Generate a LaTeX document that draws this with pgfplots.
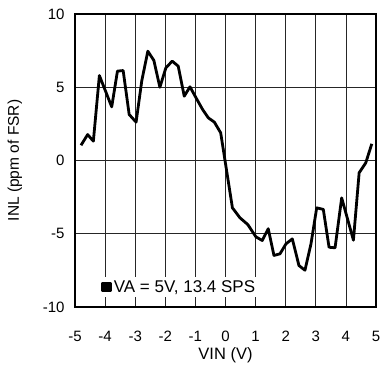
\documentclass[border=0pt]{standalone}
\usepackage{pgfplots}
\pgfplotsset{compat=1.18}
\usepackage{fontspec}
\setmainfont{Liberation Sans}
\begin{document}
\begin{tikzpicture}
\begin{axis}[
  name=ax,
  scale only axis,
  width=301bp, height=293bp,
  xmin=-5, xmax=5, ymin=-10, ymax=10,
  xtick={-5,-4,...,5},
  ytick={-10,-5,0,5,10},
  grid=major,
  major grid style={black!85, line width=0.7bp},
  major tick length=0pt,
  axis line style={black, line width=1.6bp},
  /pgf/number format/assume math mode=true,
  ticklabel style={font=\fontsize{15bp}{17bp}\selectfont},
  xticklabel style={yshift=-21bp},
  yticklabel style={xshift=-7bp},
  xlabel={VIN (V)},
  ylabel={INL (ppm of FSR)},
  xlabel style={font=\fontsize{16.5bp}{19bp}\selectfont, at={(axis description cs:0.5,0)}, anchor=north, yshift=-37bp},
  ylabel style={font=\fontsize{15.5bp}{18bp}\selectfont, at={(axis description cs:-0.2,0.5)}, anchor=center},
  legend style={at={(axis cs:-4.24,-8.63)}, anchor=west, fill=white, draw=none,
    font=\fontsize{17bp}{19bp}\selectfont, inner xsep=3bp, inner ysep=1.5bp,
    cells={anchor=west}},
  legend image code/.code={\fill[black] (0bp,-4bp) rectangle (8bp,4bp);},
]
\addplot[black, line width=2.8bp, line join=round] coordinates {
(-4.80,1.04) (-4.58,1.77) (-4.39,1.32) (-4.19,5.80) (-3.78,3.66)
(-3.59,6.10) (-3.40,6.14) (-3.20,3.14) (-2.97,2.62) (-2.78,5.46)
(-2.58,7.46) (-2.38,6.83) (-2.18,5.00) (-1.98,6.33) (-1.77,6.78)
(-1.57,6.44) (-1.37,4.39) (-1.18,5.03) (-0.96,4.21) (-0.76,3.48)
(-0.57,2.91) (-0.37,2.62) (-0.16,1.89) (0.23,-3.23) (0.48,-3.91)
(0.74,-4.37) (1.01,-5.21) (1.22,-5.46) (1.42,-4.66) (1.61,-6.48)
(1.81,-6.37) (2.01,-5.69) (2.22,-5.35) (2.44,-7.17) (2.64,-7.49)
(2.84,-5.69) (3.03,-3.23) (3.25,-3.34) (3.44,-5.92) (3.64,-5.96)
(3.86,-2.55) (4.25,-5.44) (4.44,-0.84) (4.66,-0.16) (4.86,1.14)
};
\addlegendentry{VA = 5V, 13.4 SPS}
\end{axis}
\pgfresetboundingbox
\path ([shift={(-75bp,-61bp)}]ax.south west) rectangle ([shift={(6bp,14bp)}]ax.north east);
\end{tikzpicture}
\end{document}
